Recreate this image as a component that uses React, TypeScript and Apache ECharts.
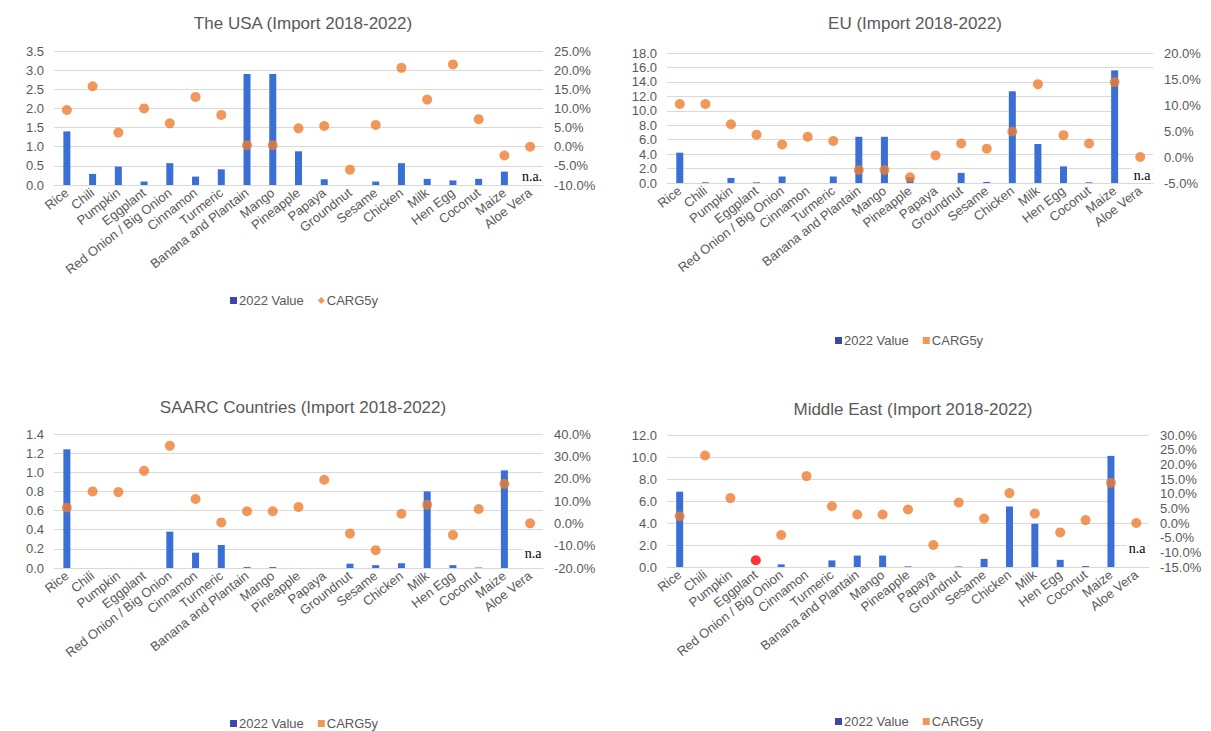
import React, { useEffect, useRef } from "react";
import * as echarts from "echarts";

const categories = [
  "Rice", "Chili", "Pumpkin", "Eggplant", "Red Onion / Big Onion", "Cinnamon", "Turmeric",
  "Banana and Plantain", "Mango", "Pineapple", "Papaya", "Groundnut", "Sesame", "Chicken",
  "Milk", "Hen Egg", "Coconut", "Maize", "Aloe Vera",
];

const usaValue = [1.4, 0.29, 0.48, 0.09, 0.57, 0.22, 0.41, 2.9, 2.9, 0.88, 0.15, null, 0.09, 0.57, 0.16, 0.12, 0.16, 0.35, null];
const usaCagr = [9.6, 15.8, 3.7, 10.0, 6.1, 13.0, 8.3, 0.4, 0.4, 4.8, 5.4, -6.0, 5.7, 20.6, 12.3, 21.5, 7.2, -2.3, 0];

const euValue = [4.2, 0.1, 0.7, 0.1, 0.9, null, 0.9, 6.4, 6.4, 0.8, null, 1.4, 0.15, 12.7, 5.4, 2.3, 0.1, 15.6, null];
const euCagr = [10.2, 10.2, 6.3, 4.3, 2.4, 3.9, 3.1, -2.5, -2.5, -3.9, 0.3, 2.6, 1.6, 4.9, 14.0, 4.2, 2.6, 14.4, 0];

const saarcValue = [1.24, null, null, null, 0.38, 0.16, 0.24, 0.01, 0.01, null, null, 0.045, 0.03, 0.05, 0.8, 0.03, 0.005, 1.02, null];
const saarcCagr = [7.1, 14.3, 14.0, 23.5, 34.7, 10.9, 0.4, 5.4, 5.4, 7.3, 19.5, -4.6, -12.0, 4.3, 8.3, -5.2, 6.4, 17.7, 0];

const meValue = [6.85, null, null, null, 0.24, null, 0.6, 1.04, 1.04, 0.06, null, 0.05, 0.74, 5.5, 3.93, 0.65, 0.09, 10.1, null];
const meCagr = [2.3, 23.0, 8.5, -12.7, -4.1, 16.0, 5.7, 2.9, 2.9, 4.6, -7.5, 7.0, 1.5, 10.2, 3.2, -3.2, 1.0, 13.7, 0];
const meRedIndex = 3;

const titles = [
  "The USA (Import 2018-2022)",
  "EU (Import 2018-2022)",
  "SAARC Countries (Import 2018-2022)",
  "Middle East (Import 2018-2022)",
];

const leftAxes = [
  { min: 0, max: 3.5, interval: 0.5 },
  { min: 0, max: 18, interval: 2 },
  { min: 0, max: 1.4, interval: 0.2 },
  { min: 0, max: 12, interval: 2 },
];
const rightAxes = [
  { min: -10, max: 25, interval: 5 },
  { min: -5, max: 20, interval: 5 },
  { min: -20, max: 40, interval: 10 },
  { min: -15, max: 30, interval: 5 },
];

const BLUE = "#3a6fd6";
const ORANGE = "#ed7d31";
const GRAY = "#595959";
const FONT = "Liberation Sans, Arial, sans-serif";

export default function App() {
  const ref = useRef<HTMLDivElement>(null);
  useEffect(() => {
    if (!ref.current) return;
    const chart = echarts.init(ref.current, null, { renderer: "svg" });

    const grids = [
      { left: 54, top: 51, width: 489, height: 134 },
      { left: 667, top: 53, width: 486, height: 130 },
      { left: 54, top: 434, width: 489, height: 134 },
      { left: 667, top: 435, width: 482, height: 132 },
    ];
    const titlePos = [
      { x: 298, y: 10 },
      { x: 910, y: 10 },
      { x: 298, y: 394 },
      { x: 908, y: 396 },
    ];
    const legendPos = [
      { x: 300, y: 289 },
      { x: 905, y: 329 },
      { x: 300, y: 712 },
      { x: 905, y: 710 },
    ];
    const values = [usaValue, euValue, saarcValue, meValue];
    const cagrs = [usaCagr, euCagr, saarcCagr, meCagr];

    const xAxis: any[] = [];
    const yAxis: any[] = [];
    const series: any[] = [];
    const title: any[] = [];
    const legend: any[] = [];

    for (let i = 0; i < 4; i++) {
      title.push({
        text: titles[i],
        left: titlePos[i].x,
        top: titlePos[i].y,
        textAlign: "center",
        textStyle: { fontFamily: FONT, fontSize: 17, fontWeight: "normal", color: GRAY },
      });
      legend.push({
        left: legendPos[i].x - 75,
        top: legendPos[i].y,
        itemWidth: 7,
        itemHeight: 7,
        itemGap: 14,
        textStyle: { fontFamily: FONT, fontSize: 13, color: GRAY, padding: [0, 0, 0, -3] },
        data: [
          { name: "2022 Value", icon: "rect", itemStyle: { color: "#3d47a6" } },
          { name: "CARG5y", icon: i === 0 ? "diamond" : "rect", itemStyle: { color: ORANGE } },
        ],
      });
      xAxis.push({
        type: "category",
        gridIndex: i,
        data: categories,
        axisLine: { lineStyle: { color: "#d9d9d9" } },
        axisTick: { show: false },
        axisLabel: {
          interval: 0,
          rotate: 38,
          fontFamily: FONT,
          fontSize: 13,
          color: GRAY,
          margin: 6,
        },
      });
      yAxis.push({
        type: "value",
        gridIndex: i,
        position: "left",
        min: leftAxes[i].min,
        max: leftAxes[i].max,
        interval: leftAxes[i].interval,
        axisLine: { show: false },
        axisTick: { show: false },
        splitLine: { lineStyle: { color: "#d9d9d9" } },
        axisLabel: {
          fontFamily: FONT,
          fontSize: 13,
          color: GRAY,
          margin: 10,
          formatter: (v: number) => v.toFixed(1),
        },
      });
      yAxis.push({
        type: "value",
        gridIndex: i,
        position: "right",
        min: rightAxes[i].min,
        max: rightAxes[i].max,
        interval: rightAxes[i].interval,
        axisLine: { show: false },
        axisTick: { show: false },
        splitLine: { show: false },
        axisLabel: {
          fontFamily: FONT,
          fontSize: 13,
          color: GRAY,
          margin: 11,
          formatter: (v: number) => v.toFixed(1) + "%",
        },
      });
      series.push({
        name: "2022 Value",
        type: "bar",
        xAxisIndex: i,
        yAxisIndex: i * 2,
        barWidth: 7,
        itemStyle: { color: BLUE },
        data: values[i],
        z: 2,
      });
      series.push({
        name: "CARG5y",
        type: "scatter",
        xAxisIndex: i,
        yAxisIndex: i * 2 + 1,
        symbol: "circle",
        symbolSize: 10,
        itemStyle: { color: ORANGE },
        data: cagrs[i].map((v, k) =>
          i === 3 && k === meRedIndex ? { value: v, itemStyle: { color: "#ff0000" } } : v
        ),
        z: 3,
      });
    }

    const naStyle = (text: string) => ({
      text,
      fill: "#000",
      fontFamily: "Liberation Serif",
      fontSize: 14,
      fontWeight: "normal",
      align: "center",
      verticalAlign: "middle",
      backgroundColor: "#fff",
      padding: [1, 2],
    });

    chart.setOption({
      animation: false,
      backgroundColor: "#fff",
      title,
      legend,
      grid: grids,
      xAxis,
      yAxis,
      series,
      graphic: [
        { type: "rect", z: 1, shape: { x: 1118, y: 77, width: 36, height: 68 }, style: { fill: "#fff" } },
        { type: "rect", z: 1, shape: { x: 1114, y: 452, width: 36, height: 64 }, style: { fill: "#fff" } },
        { type: "text", z: 5, x: 532, y: 176, style: naStyle("n.a.") },
        { type: "text", z: 5, x: 1142, y: 175, style: naStyle("n.a") },
        { type: "text", z: 5, x: 533, y: 553, style: naStyle("n.a") },
        { type: "text", z: 5, x: 1137, y: 548, style: naStyle("n.a") },
      ],
    });
    return () => chart.dispose();
  }, []);
  return (
    <div
      ref={ref}
      style={{ position: "absolute", left: 0, top: 0, width: 1211, height: 731, background: "#fff" }}
    />
  );
}
